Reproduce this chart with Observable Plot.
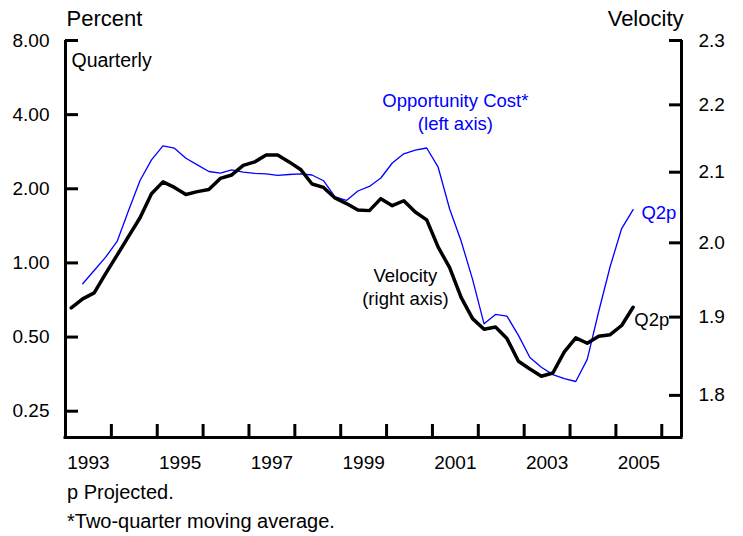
<!DOCTYPE html>
<html><head><meta charset="utf-8">
<script src="https://cdn.jsdelivr.net/npm/d3@7"></script>
<script src="https://cdn.jsdelivr.net/npm/@observablehq/plot@0.6"></script>
<style>
body{margin:0;background:#fff;font-family:"Liberation Sans",Arial,sans-serif;color:#000;}
#wrap{position:relative;width:743px;height:536px;overflow:hidden;}
#title{position:absolute;left:64px;top:-24px;font-weight:bold;font-size:24.5px;line-height:1;white-space:nowrap;}
#chart{position:absolute;left:0;top:0;}
.note{position:absolute;left:67px;font-size:20px;line-height:22px;white-space:nowrap;}
</style></head><body>
<div id="wrap">
<div id="title">M2 Velocity and Opportunity Cost</div>
<div id="chart"></div>
<div class="note" style="top:481px">p Projected.</div>
<div class="note" style="top:510px">*Two-quarter moving average.</div>
</div>
<script>
// Velocity of M2 (right axis), quarterly, first point 1993Q1
const velocityStart = [1993, 1];
const velocity = [
  1.912, 1.924, 1.932, 1.958,
  1.983, 2.009, 2.035, 2.069,
  2.086, 2.078, 2.068, 2.072,
  2.075, 2.091, 2.096, 2.110,
  2.115, 2.125, 2.125, 2.115,
  2.104, 2.083, 2.078, 2.063,
  2.055, 2.046, 2.045, 2.062,
  2.052, 2.059, 2.043, 2.032,
  1.994, 1.966, 1.926, 1.898,
  1.884, 1.887, 1.872, 1.843,
  1.833, 1.824, 1.828, 1.855,
  1.873, 1.866, 1.875, 1.877,
  1.889, 1.913
];
// Opportunity cost, percent (left axis), first point 1993Q2
const oppCostStart = [1993, 2];
const oppCost = [
  0.823, 0.932, 1.055,
  1.222, 1.633, 2.162, 2.622,
  2.989, 2.922, 2.662, 2.502,
  2.351, 2.314, 2.388, 2.336,
  2.308, 2.301, 2.265, 2.286,
  2.297, 2.275, 2.156, 1.856,
  1.793, 1.959, 2.044, 2.212,
  2.545, 2.773, 2.868, 2.928,
  2.447, 1.656, 1.228, 0.857,
  0.566, 0.618, 0.608, 0.508,
  0.413, 0.377, 0.352, 0.339,
  0.330, 0.406, 0.635, 0.967,
  1.379, 1.645
];
const percentTicks = [0.25, 0.5, 1, 2, 4, 8];
const velocityTicks = [1.8, 1.9, 2.0, 2.1, 2.2, 2.3];
const yearTicks = [1994, 1995, 1996, 1997, 1998, 1999, 2000, 2001, 2002, 2003, 2004, 2005, 2006];
const yearLabels = [1993, 1995, 1997, 1999, 2001, 2003, 2005];

// scale configuration
const xDomain = [1993, 2006.43];
const yDomain = [0.1955, 8];
const velTop = 2.3, pctTop = 8, K = 13.535; // right (log) axis aligned to left (log) axis
const vToP = v => pctTop * Math.pow(v / velTop, K);

const qTime = (start, i) => {
  const q = start[1] - 1 + i;
  return start[0] + Math.floor(q / 4) + ((q % 4) + 0.5) / 4;
};
const velData = velocity.map((v, i) => ({t: qTime(velocityStart, i), v, p: vToP(v)}));
const oppData = oppCost.map((v, i) => ({t: qTime(oppCostStart, i), v}));

const blue = "#0000ff";
const chart = Plot.plot({
  width: 743, height: 475,
  marginLeft: 65, marginRight: 62, marginTop: 40, marginBottom: 38,
  style: {fontFamily: '"Liberation Sans", Arial, sans-serif', fontSize: "19px", color: "#000", background: "#fff", overflow: "visible"},
  x: {domain: xDomain},
  y: {type: "log", domain: yDomain},
  marks: [
    Plot.axisX({ticks: yearTicks, tickSize: -13, tickFormat: () => "", strokeWidth: 3, label: null}),
    Plot.axisX({ticks: yearLabels.map(y => y + 0.5), tickSize: 0, tickPadding: 18, tickFormat: d => String(Math.floor(d)), label: null}),
    Plot.axisY({ticks: percentTicks, tickSize: -13, tickFormat: () => "", strokeWidth: 3, label: null}),
    Plot.axisY({anchor: "right", ticks: velocityTicks.map(vToP), tickSize: -13, tickFormat: () => "", strokeWidth: 3, label: null}),
    Plot.text(percentTicks, {y: d => d, frameAnchor: "left", textAnchor: "end", dx: -16, text: d3.format(".2f")}),
    Plot.text(velocityTicks, {y: d => vToP(d), frameAnchor: "right", textAnchor: "start", dx: 17, text: d => d.toFixed(1)}),
    Plot.ruleX(xDomain, {strokeWidth: 3}),
    Plot.ruleY([yDomain[0]], {strokeWidth: 3, strokeLinecap: "square"}),
    Plot.line(oppData, {x: "t", y: "v", stroke: blue, strokeWidth: 1.3}),
    Plot.line(velData, {x: "t", y: "p", stroke: "#000", strokeWidth: 3.5}),
    Plot.text(["Percent"], {frameAnchor: "top-left", lineAnchor: "middle", dx: 1, dy: -22, textAnchor: "start", fontSize: 22}),
    Plot.text(["Velocity"], {frameAnchor: "top-right", lineAnchor: "middle", dx: 2, dy: -22, textAnchor: "end", fontSize: 22}),
    Plot.text(["Quarterly"], {frameAnchor: "top-left", lineAnchor: "middle", dx: 6, dy: 20, textAnchor: "start", fontSize: 19.5}),
    Plot.text(["Opportunity Cost*\n(left axis)"], {x: 2001.5, y: 4.12, fill: blue, lineHeight: 1.2, fontSize: 18.5}),
    Plot.text(["Velocity\n(right axis)"], {x: 2000.41, y: 0.803, fill: "#000", lineHeight: 1.2, fontSize: 18.5}),
    Plot.text(["Q2p"], {x: 2005.556, y: 1.587, fill: blue, textAnchor: "start", fontSize: 18.5}),
    Plot.text(["Q2p"], {x: 2005.40, y: 0.584, fill: "#000", textAnchor: "start", fontSize: 18.5})
  ]
});
document.getElementById("chart").appendChild(chart);
</script>
</body></html>
